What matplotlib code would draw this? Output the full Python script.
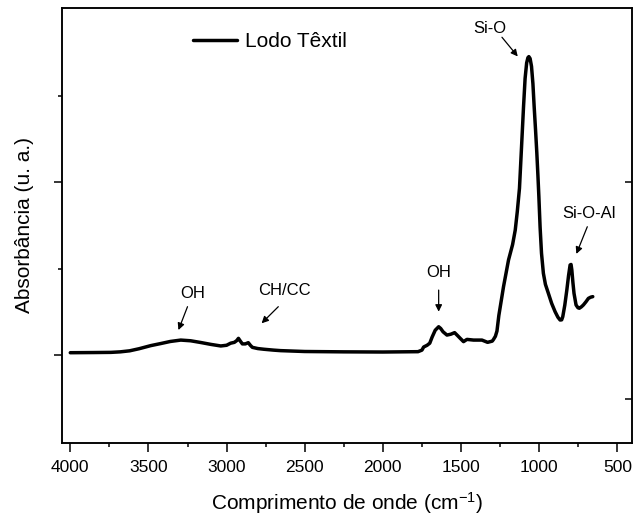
import matplotlib
matplotlib.use("Agg")
import matplotlib.pyplot as plt
from matplotlib.ticker import MultipleLocator, FixedLocator, NullFormatter

plt.rcParams['font.family'] = ['Liberation Sans', 'DejaVu Sans']
plt.rcParams['mathtext.fontset'] = 'custom'
plt.rcParams['mathtext.rm'] = 'Liberation Sans'
plt.rcParams['mathtext.default'] = 'regular'

# Spectrum (wavenumber in cm-1, absorbance in a.u.)
wavenumber = [4000, 3850, 3740, 3680, 3620, 3560, 3485, 3421, 3360, 3293, 3230,
              3165, 3100, 3037, 3000, 2974, 2950, 2935, 2924, 2912, 2899, 2880,
              2861, 2848, 2835, 2800, 2761, 2700, 2654, 2500, 2250, 2000, 1888,
              1775, 1750, 1739, 1717, 1700, 1685, 1665, 1643, 1630, 1615, 1590,
              1565, 1541, 1520, 1505, 1484, 1462, 1420, 1366, 1330, 1300, 1292,
              1280, 1270, 1258, 1240, 1228, 1196, 1170, 1153, 1140, 1126, 1113,
              1100, 1090, 1080, 1072, 1066, 1058, 1049, 1040, 1032, 1023, 1015,
              1008, 1002, 994, 985, 973, 960, 941, 920, 898, 880, 866, 856, 849,
              836, 823, 812, 802, 796, 791, 784, 777, 764, 752, 743, 730, 717,
              700, 685, 670, 657]
absorbance = [0.015, 0.016, 0.017, 0.020, 0.026, 0.038, 0.056, 0.068, 0.080, 0.088, 0.084,
              0.074, 0.063, 0.054, 0.058, 0.070, 0.075, 0.085, 0.098, 0.082, 0.066, 0.066,
              0.073, 0.058, 0.046, 0.039, 0.035, 0.030, 0.027, 0.022, 0.020, 0.019, 0.020,
              0.021, 0.030, 0.048, 0.058, 0.070, 0.105, 0.145, 0.165, 0.155, 0.136, 0.117,
              0.122, 0.131, 0.112, 0.098, 0.079, 0.092, 0.088, 0.088, 0.075, 0.082, 0.092,
              0.110, 0.140, 0.230, 0.330, 0.397, 0.551, 0.640, 0.724, 0.830, 0.965, 1.200,
              1.437, 1.600, 1.690, 1.720, 1.726, 1.715, 1.670, 1.570, 1.437, 1.300, 1.170,
              1.040, 0.920, 0.740, 0.590, 0.474, 0.410, 0.358, 0.300, 0.252, 0.220, 0.204, 0.205,
              0.223, 0.290, 0.377, 0.460, 0.522, 0.525, 0.493, 0.420, 0.358, 0.291, 0.275, 0.272,
              0.280, 0.291, 0.310, 0.329, 0.336, 0.339]

series_label = "Lodo Têxtil"
x_ticks = [4000, 3500, 3000, 2500, 2000, 1500, 1000, 500]

# annotations: (text, text position, arrow tail, arrow head) in data units
annotations = [
    ("OH",      (3220, 0.358), (3250, 0.281), (3308, 0.146)),
    ("CH/CC",   (2627, 0.373), (2669, 0.281), (2776, 0.185)),
    ("OH",      (1643, 0.477), (1643, 0.377), (1643, 0.252)),
    ("Si-O",    (1313, 1.886), (1238, 1.838), (1137, 1.727)),
    ("Si-O-Al", (681, 0.822), (692, 0.743), (762, 0.586)),
]

W, H = 633, 515
fig = plt.figure(figsize=(W / 100, H / 100), dpi=100)
ax = fig.add_axes([62 / W, (H - 442.7) / H, (632 - 62) / W, (442.7 - 8) / H])

ax.plot(wavenumber, absorbance, color='black', lw=2.5, label=series_label,
        solid_joinstyle='round', solid_capstyle='round')

ax.set_xlim(4053, 406)
ax.set_ylim(-0.505, 2.007)

ax.xaxis.set_major_locator(FixedLocator(x_ticks))
ax.xaxis.set_minor_locator(MultipleLocator(250))
ax.yaxis.set_major_locator(FixedLocator([0, 1]))
ax.yaxis.set_minor_locator(FixedLocator([0.5, 1.5]))
ax.yaxis.set_major_formatter(NullFormatter())

ax.tick_params(axis='x', which='major', direction='out', length=6.5, width=1.1,
               labelsize=12.5, pad=6)
ax.tick_params(axis='x', which='minor', direction='out', length=3, width=1.1)
ax.tick_params(axis='y', which='major', direction='out', length=6, width=1.1)
ax.tick_params(axis='y', which='minor', direction='out', length=3, width=1.1)
for s in ax.spines.values():
    s.set_linewidth(1.1)

# right axis ticks (inward)
ax2 = ax.twinx()
ax2.set_ylim(ax.get_ylim())
ax2.yaxis.set_major_locator(FixedLocator([-0.25, 1.0]))
ax2.yaxis.set_major_formatter(NullFormatter())
ax2.tick_params(axis='y', direction='in', length=5, width=1.1)
for s in ax2.spines.values():
    s.set_linewidth(1.1)

ax.set_xlabel("Comprimento de onde (cm$^{-1}$)", fontsize=15, labelpad=11)
ax.set_ylabel("Absorbância (u. a.)", fontsize=15, labelpad=11)

for txt, tpos, tail, head in annotations:
    ax.text(tpos[0], tpos[1], txt, fontsize=12, ha='center', va='center')
    ax.annotate("", xy=head, xytext=tail,
                arrowprops=dict(arrowstyle='-|>', color='black', lw=0.9,
                                mutation_scale=10, shrinkA=0, shrinkB=0))

ax.legend(loc='center left', bbox_to_anchor=(0.229, 0.923), frameon=False,
          fontsize=15, handlelength=2.14, handletextpad=0.37,
          borderpad=0, borderaxespad=0)

fig.savefig("out.png", dpi=100)
